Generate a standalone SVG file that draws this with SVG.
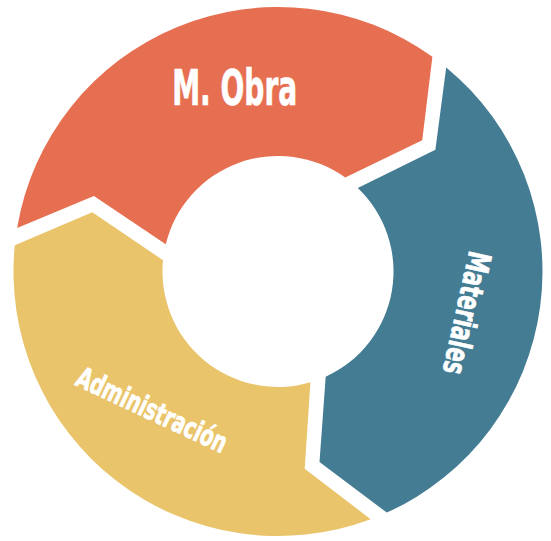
<svg xmlns="http://www.w3.org/2000/svg" xmlns:xlink="http://www.w3.org/1999/xlink" width="551" height="541" viewBox="0 0 551 541">
  <style>
    .seg-red { fill: #E76F51; }
    .seg-teal { fill: #437C93; }
    .seg-yellow { fill: #E9C46A; }
    .label { fill: #FFFFFF; stroke: #FFFFFF; stroke-width: 0.7; font-family: "DejaVu Sans Condensed", "DejaVu Sans", "Liberation Sans", sans-serif; font-weight: bold; text-anchor: middle; }
  </style>
  <defs>
    <!-- One ring segment with a notch at its start and an arrow tip at its end; centre (278, 271.5) -->
    <path id="seg" d="M 446.2,67.4 A 264.5 264.5 0 0 1 386.8,512.6 L 319.5,462.0 L 325.7,376.7 A 115.5 115.5 0 0 0 357.8,188.0 L 435.4,149.8 Z"/>
  </defs>
  <rect width="551" height="541" fill="#FFFFFF"/>

  <g id="connectors"></g>

  <g id="node-mobra">
    <use xlink:href="#seg" href="#seg" class="seg-red" transform="rotate(-120 278 271.5)"/>
    <text class="label" x="234.7" y="105" font-size="50" textLength="125" lengthAdjust="spacingAndGlyphs">M. Obra</text>
  </g>

  <g id="node-materiales">
    <use xlink:href="#seg" href="#seg" class="seg-teal"/>
    <text class="label" transform="translate(467.7 313.3) rotate(102.4)" x="0" y="12" font-size="32" textLength="125" lengthAdjust="spacingAndGlyphs">Materiales</text>
  </g>

  <g id="node-administracion">
    <use xlink:href="#seg" href="#seg" class="seg-yellow" transform="rotate(120 278 271.5)"/>
    <text class="label" transform="translate(152.5 409) rotate(25)" x="0" y="11" font-size="29" textLength="163" lengthAdjust="spacingAndGlyphs">Administración</text>
  </g>
</svg>
